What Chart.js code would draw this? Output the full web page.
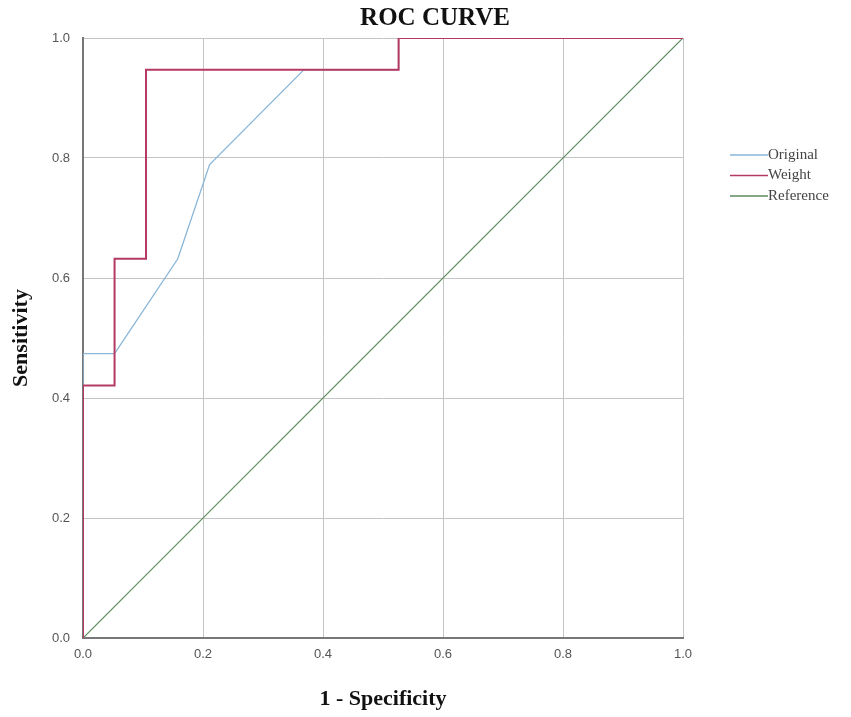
<!DOCTYPE html>
<html>
<head>
<meta charset="utf-8">
<script src="https://cdn.jsdelivr.net/npm/chart.js@4/dist/chart.umd.min.js"></script>
<style>
  html, body { margin: 0; padding: 0; background: #fff; }
  #wrap { width: 851px; height: 717px; }
</style>
</head>
<body>
<div id="wrap"><canvas id="roc" width="851" height="717"></canvas></div>
<script>
// ROC curve points (1 - specificity, sensitivity)
const seriesNames = ['Original', 'Weight', 'Reference'];
const originalX = [0, 0, 0.0526, 0.158, 0.211, 0.368, 0.526, 0.526, 1];
const originalY = [0, 0.474, 0.474, 0.632, 0.789, 0.947, 0.947, 1, 1];
const weightX = [0, 0, 0.0526, 0.0526, 0.105, 0.105, 0.526, 0.526, 1];
const weightY = [0, 0.421, 0.421, 0.632, 0.632, 0.947, 0.947, 1, 1];
const referenceX = [0, 1];
const referenceY = [0, 1];
const tickValues = [0, 0.2, 0.4, 0.6, 0.8, 1.0];

const COLORS = ['#8ab6d8', '#b53a63', '#5d8a5d'];

const toPts = (xs, ys) => xs.map((x, i) => ({ x, y: ys[i] }));

// title + legend drawn in the free space around the plot
const decor = {
  id: 'decor',
  afterDraw(chart) {
    const { ctx } = chart;
    ctx.save();
    ctx.fillStyle = '#111';
    ctx.font = 'bold 25px "Liberation Serif", serif';
    ctx.textAlign = 'center';
    ctx.textBaseline = 'middle';
    ctx.fillText('ROC CURVE', 435, 19);

    ctx.font = '15px "Liberation Serif", serif';
    ctx.textAlign = 'left';
    chart.data.datasets.forEach((ds, i) => {
      const y = 155 + i * 20.5;
      ctx.strokeStyle = ds.borderColor;
      ctx.lineWidth = 1.5;
      ctx.beginPath();
      ctx.moveTo(730, y);
      ctx.lineTo(768, y);
      ctx.stroke();
      ctx.fillStyle = '#444';
      ctx.fillText(ds.label, 768, y);
    });
    ctx.restore();
  }
};

new Chart(document.getElementById('roc'), {
  type: 'scatter',
  data: {
    datasets: [
      { label: seriesNames[0], data: toPts(originalX, originalY), borderColor: COLORS[0], borderWidth: 1.3, order: 1 },
      { label: seriesNames[1], data: toPts(weightX, weightY), borderColor: COLORS[1], borderWidth: 2, order: 0 },
      { label: seriesNames[2], data: toPts(referenceX, referenceY), borderColor: COLORS[2], borderWidth: 1.2, order: 2 }
    ].map(d => Object.assign(d, { showLine: true, pointRadius: 0, fill: false, tension: 0, backgroundColor: d.borderColor }))
  },
  options: {
    responsive: false,
    animation: false,
    layout: { padding: { top: 38, right: 168, bottom: 4, left: 8 } },
    plugins: { legend: { display: false }, tooltip: { enabled: false } },
    scales: {
      x: {
        type: 'linear', min: 0, max: 1,
        afterBuildTicks: s => { s.ticks = tickValues.map(v => ({ value: v })); },
        afterFit: s => { s.height = 75; },
        grid: { color: '#c4c4c4', drawTicks: false },
        border: { color: '#777', width: 2 },
        ticks: { padding: 9, color: '#555', font: { family: 'Liberation Sans', size: 13 }, callback: v => v.toFixed(1) },
        title: { display: true, text: '1 - Specificity', color: '#111', font: { family: 'Liberation Serif', size: 22, weight: 'bold' }, padding: { top: 0, bottom: 0 } }
      },
      y: {
        type: 'linear', min: 0, max: 1,
        afterBuildTicks: s => { s.ticks = tickValues.map(v => ({ value: v })); },
        afterFit: s => { s.width = 75; },
        grid: { color: '#c4c4c4', drawTicks: false },
        border: { color: '#777', width: 2 },
        ticks: { padding: 13, color: '#555', font: { family: 'Liberation Sans', size: 13 }, callback: v => v.toFixed(1) },
        title: { display: true, text: 'Sensitivity', color: '#111', font: { family: 'Liberation Serif', size: 22, weight: 'bold' }, padding: { top: 0, bottom: 0 } }
      }
    }
  },
  plugins: [decor]
});
</script>
</body>
</html>
